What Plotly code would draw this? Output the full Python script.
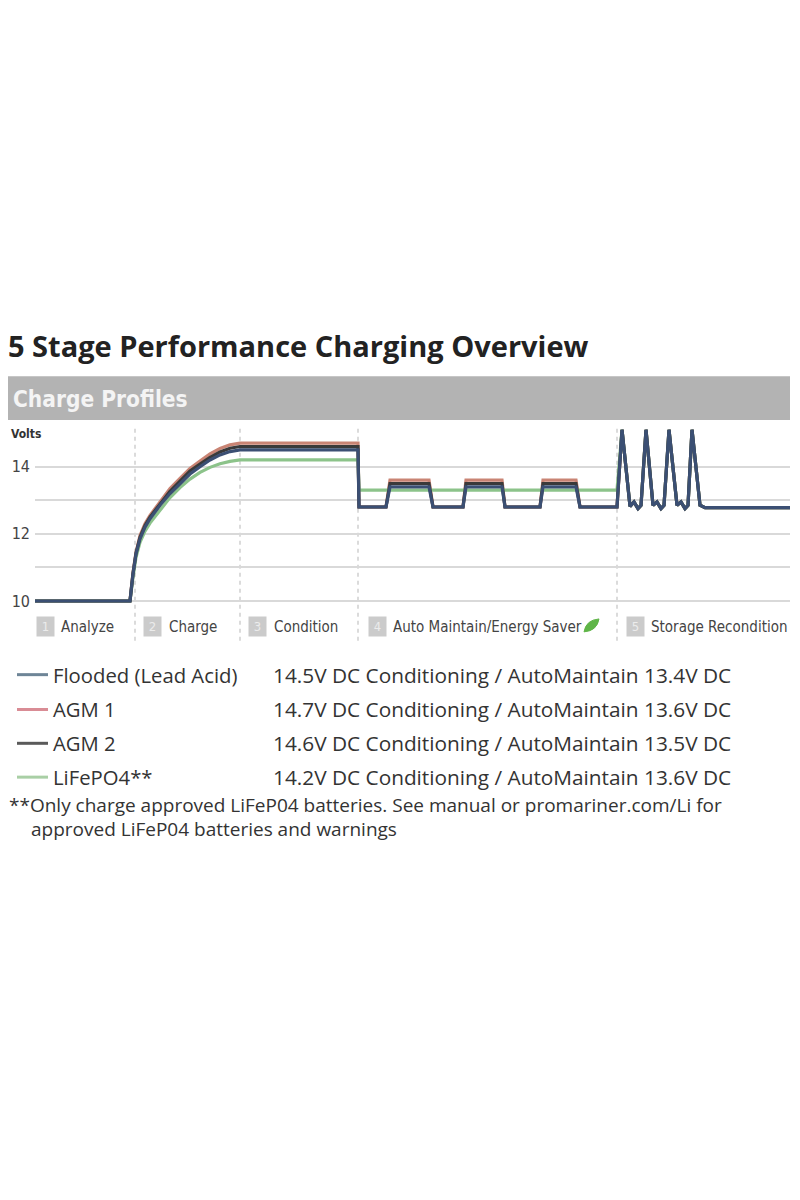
import plotly.graph_objects as go

W, H = 800, 1200
OX, OY = 8, 6  # page margin the browser adds around the figure

# ---- data ----
stage_nums = ["1", "2", "3", "4", "5"]
stage_names = ["Analyze", "Charge", "Condition", "Auto Maintain/Energy Saver", "Storage Recondition"]
stage_bounds = [100, 205, 323, 582]  # dashed separators, time units

series_names = ["Flooded (Lead Acid)", "AGM 1", "AGM 2", "LiFePO4**"]
series_notes = [
    "14.5V DC Conditioning / AutoMaintain 13.4V DC",
    "14.7V DC Conditioning / AutoMaintain 13.6V DC",
    "14.6V DC Conditioning / AutoMaintain 13.5V DC",
    "14.2V DC Conditioning / AutoMaintain 13.6V DC",
]

analyze_t = [0, 95]
analyze_v = [10.0, 10.0]

charge_t = [95, 98, 101, 105, 110, 115, 125, 135, 145, 155, 165, 175, 185, 195, 205]
charge_flooded = [10.0, 10.8, 11.4, 11.85, 12.2, 12.45, 12.85, 13.2, 13.5, 13.78, 14.0, 14.2, 14.35, 14.45, 14.5]
charge_agm1 = [10.0, 10.85, 11.45, 11.95, 12.3, 12.55, 12.95, 13.35, 13.65, 13.95, 14.17, 14.38, 14.54, 14.65, 14.7]
charge_agm2 = [10.0, 10.82, 11.42, 11.9, 12.25, 12.5, 12.9, 13.27, 13.57, 13.87, 14.08, 14.28, 14.44, 14.55, 14.6]
charge_lifepo4 = [10.0, 10.7, 11.3, 11.75, 12.08, 12.32, 12.7, 13.08, 13.38, 13.63, 13.83, 13.98, 14.09, 14.16, 14.2]

condition_t = [323]
condition_flooded = [14.5]
condition_agm1 = [14.7]
condition_agm2 = [14.6]
condition_lifepo4 = [14.2]

maint_t = [324, 351, 355, 394, 398, 428, 431, 467, 470, 505, 508, 541, 545, 582]
maint_flooded = [12.8, 12.8, 13.4, 13.4, 12.8, 12.8, 13.4, 13.4, 12.8, 12.8, 13.4, 13.4, 12.8, 12.8]
maint_agm1 = [12.8, 12.8, 13.6, 13.6, 12.8, 12.8, 13.6, 13.6, 12.8, 12.8, 13.6, 13.6, 12.8, 12.8]
maint_agm2 = [12.8, 12.8, 13.5, 13.5, 12.8, 12.8, 13.5, 13.5, 12.8, 12.8, 13.5, 13.5, 12.8, 12.8]
maint_lifepo4 = [13.3, 13.3, 13.3, 13.3, 13.3, 13.3, 13.3, 13.3, 13.3, 13.3, 13.3, 13.3, 13.3, 13.3]

recond_t = [582, 587, 595, 599, 603, 606, 611, 618, 622, 626, 629, 634, 642, 646, 650, 653, 657, 665, 670, 755]
recond_v = [12.78, 15.1, 12.82, 12.95, 12.75, 12.85, 15.1, 12.85, 12.95, 12.75, 12.85, 15.1, 12.85, 12.95,
            12.75, 12.85, 15.1, 12.85, 12.78, 12.78]

line_colors = ["#3b4f73", "#c98474", "#3a3a3a", "#8cc38a"]
key_colors = ["#6e8597", "#d98c95", "#5a5a5a", "#a9cfa5"]

charge_all = [charge_flooded, charge_agm1, charge_agm2, charge_lifepo4]
cond_all = [condition_flooded, condition_agm1, condition_agm2, condition_lifepo4]
maint_all = [maint_flooded, maint_agm1, maint_agm2, maint_lifepo4]

NARROW = "Liberation Sans Narrow, DejaVu Sans Condensed, Roboto"


def px(x):
    return (x - OX) / W


def py(y):
    return 1 - (y - OY) / H


fig = go.Figure()

# draw AGM 1 first so the flooded line sits on top where they overlap
for i in [1, 3, 2, 0]:
    xs = analyze_t + charge_t + condition_t + maint_t + recond_t[1:]
    ys = analyze_v + charge_all[i] + cond_all[i] + maint_all[i] + recond_v[1:]
    fig.add_trace(go.Scatter(x=xs, y=ys, mode="lines", name=series_names[i],
                             line=dict(color=line_colors[i], width=3.2), showlegend=False))

shapes = []
# header bar
shapes.append(dict(type="rect", xref="paper", yref="paper", x0=px(8), x1=px(790), y0=py(420), y1=py(376),
                   fillcolor="#b3b3b3", line=dict(width=0), layer="below"))
# stage separators
for b in stage_bounds:
    shapes.append(dict(type="line", xref="x", yref="paper", x0=b, x1=b, y0=py(642), y1=py(426),
                       line=dict(color="#cfcfcf", width=1.5, dash="4px,4px"), layer="below"))
# leaf icon
leaf = "M {},{} Q {},{} {},{} Q {},{} {},{} Z".format(
    px(584), py(633), px(586), py(621), px(599), py(620), px(597), py(632), px(584), py(633))
shapes.append(dict(type="path", xref="paper", yref="paper", path=leaf,
                   fillcolor="#5fb548", line=dict(color="#5fb548", width=1)))
# legend keys
row_y = [676, 711, 745, 779]
for i, y in enumerate(row_y):
    shapes.append(dict(type="line", xref="paper", yref="paper", x0=px(17), x1=px(48), y0=py(y), y1=py(y),
                       line=dict(color=key_colors[i], width=3)))

ann = []
ann.append(dict(text="<b>5 Stage Performance Charging Overview</b>", x=px(6), y=py(345), xref="paper", yref="paper",
                xanchor="left", yanchor="middle", showarrow=False,
                font=dict(family="Open Sans", size=29, color="#222222")))
ann.append(dict(text="<b>Charge Profiles</b>", x=px(11), y=py(399), xref="paper", yref="paper",
                xanchor="left", yanchor="middle", showarrow=False,
                font=dict(family=NARROW, size=22.5, color="#f4f4f4")))
ann.append(dict(text="<b>Volts</b>", x=px(9), y=py(434), xref="paper", yref="paper",
                xanchor="left", yanchor="middle", showarrow=False,
                font=dict(family=NARROW, size=12, color="#333333")))

box_x = [36, 143, 248, 368, 626]
text_x = [59, 167, 272, 391, 649]
for i in range(5):
    ann.append(dict(text=stage_nums[i], x=px(box_x[i]), y=py(628), xref="paper", yref="paper",
                    xanchor="left", yanchor="middle", showarrow=False, width=17, height=19,
                    bgcolor="#cbcbcb", borderpad=0,
                    font=dict(family=NARROW, size=13, color="#ececec")))
    ann.append(dict(text=stage_names[i], x=px(text_x[i]), y=py(628), xref="paper", yref="paper",
                    xanchor="left", yanchor="middle", showarrow=False,
                    font=dict(family=NARROW, size=15, color="#444444")))

for i, y in enumerate(row_y):
    ann.append(dict(text=series_names[i], x=px(51), y=py(y), xref="paper", yref="paper",
                    xanchor="left", yanchor="middle", showarrow=False,
                    font=dict(family="Open Sans", size=20.3, color="#333333")))
    ann.append(dict(text=series_notes[i], x=px(271), y=py(y), xref="paper", yref="paper",
                    xanchor="left", yanchor="middle", showarrow=False,
                    font=dict(family="Open Sans", size=20.8, color="#333333")))

ann.append(dict(text="**Only charge approved LiFeP04 batteries. See manual or promariner.com/Li for",
                x=px(7), y=py(807), xref="paper", yref="paper", xanchor="left", yanchor="middle",
                showarrow=False, font=dict(family="Open Sans", size=19, color="#333333")))
ann.append(dict(text="approved LiFeP04 batteries and warnings",
                x=px(29), y=py(831), xref="paper", yref="paper", xanchor="left", yanchor="middle",
                showarrow=False, font=dict(family="Open Sans", size=19, color="#333333")))

fig.update_layout(
    width=W, height=H, margin=dict(l=0, r=0, t=0, b=0),
    paper_bgcolor="white", plot_bgcolor="white",
    shapes=shapes, annotations=ann,
    xaxis=dict(domain=[px(35), px(790)], range=[0, 755], showgrid=False, zeroline=False,
               showticklabels=False, fixedrange=True),
    yaxis=dict(domain=[py(606), py(424)], range=[9.881, 15.274], tickvals=[10, 11, 12, 13, 14],
               ticktext=["10", "", "12", "", "14"], showgrid=True, gridcolor="#d9d9d9", gridwidth=2,
               zeroline=False, ticks="", ticklabelstandoff=4,
               tickfont=dict(family=NARROW, size=16, color="#444444")),
)

fig.write_html("out.html")
